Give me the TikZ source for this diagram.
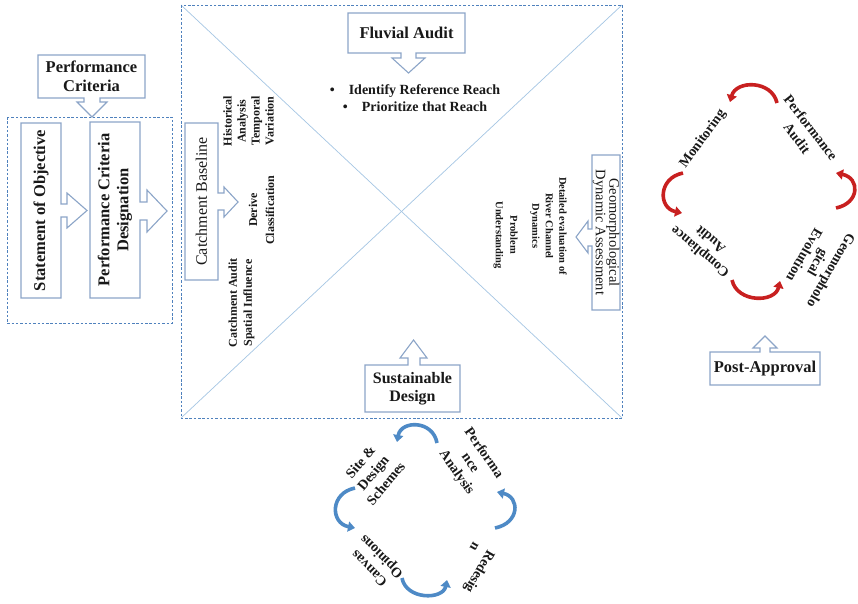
\documentclass[tikz,border=0pt]{standalone}
\usepackage{fontspec}
\setmainfont{Liberation Serif}
\usetikzlibrary{arrows.meta}
\definecolor{dashblue}{RGB}{79,129,189}
\definecolor{calloutblue}{RGB}{140,165,200}
\definecolor{diagblue}{RGB}{165,198,228}
\definecolor{arcred}{RGB}{200,32,32}
\definecolor{arcblue}{RGB}{78,138,198}
\definecolor{txt}{RGB}{25,25,25}
\begin{document}
\begin{tikzpicture}[x=1pt,y=-1pt,
  dsh/.style={draw=dashblue,line width=0.9pt,dash pattern=on 2.5pt off 1.8pt},
  diag/.style={draw=diagblue,line width=0.7pt},
  co/.style={draw=calloutblue,line width=1.1pt,fill=white,line join=miter},
  hd/.style={font=\fontsize{16.5}{19}\selectfont\bfseries,align=center,inner sep=0pt,text=txt},
  hdr/.style={font=\fontsize{14.5}{13.5}\selectfont,align=center,inner sep=0pt,text=txt},
  bul/.style={font=\fontsize{14}{17}\selectfont\bfseries,align=center,inner sep=0pt,text=txt},
  sm/.style={font=\fontsize{10.5}{13.5}\selectfont\bfseries,align=center,inner sep=0pt,text=txt},
  smb/.style={font=\fontsize{12}{14}\selectfont\bfseries,align=center,inner sep=0pt,text=txt},
  cyc/.style={font=\fontsize{14}{16.5}\selectfont\bfseries,align=center,inner sep=0pt,text=txt},
  redarc/.style={draw=arcred,line width=3.6pt,-{Triangle[width=10pt,length=7pt]}},
  bluearc/.style={draw=arcblue,line width=3.6pt,-{Triangle[width=10pt,length=7pt]}}]
\useasboundingbox (0,0) rectangle (858,603);
\fill[white] (0,0) rectangle (858,603);

% dashed frames and diagonals
\draw[dsh] (7,117) rectangle (172,323);
\draw[diag] (181,5) -- (622,418);
\draw[diag] (622,5) -- (181,418);
\draw[dsh] (181,5) rectangle (622,418);

% callout outlines
\draw[co] (38,55) -- (145,55) -- (145,98) -- (100,98) -- (100,102) -- (107,102) -- (92,117) -- (77,102) -- (84,102) -- (84,98) -- (38,98) -- cycle;
\draw[co] (21,123) -- (61,123) -- (61,204) -- (67,204) -- (67,193) -- (87,210.5) -- (67,228) -- (67,217) -- (61,217) -- (61,298) -- (21,298) -- cycle;
\draw[co] (90,122) -- (140,122) -- (140,202) -- (147,202) -- (147,190) -- (167,211) -- (147,232) -- (147,220) -- (140,220) -- (140,298) -- (90,298) -- cycle;
\draw[co] (348,13) -- (465,13) -- (465,53) -- (416,53) -- (416,58) -- (425,58) -- (408.5,73) -- (392,58) -- (401,58) -- (401,53) -- (348,53) -- cycle;
\draw[co] (185,123) -- (218,123) -- (218,193) -- (224,193) -- (224,187) -- (238,202) -- (224,217) -- (224,210) -- (218,210) -- (218,280) -- (185,280) -- cycle;
\draw[co] (592,155) -- (620,155) -- (620,310) -- (592,310) -- (592,246) -- (588,246) -- (588,253) -- (576,237) -- (588,221) -- (588,229) -- (592,229) -- cycle;
\draw[co] (365,365) -- (408,365) -- (408,358) -- (400,358) -- (413.5,340) -- (427,358) -- (420,358) -- (420,365) -- (460,365) -- (460,412) -- (365,412) -- cycle;
\draw[co] (710,352) -- (760,352) -- (760,348) -- (753,348) -- (765,336) -- (777,348) -- (770,348) -- (770,352) -- (820,352) -- (820,385) -- (710,385) -- cycle;

% box texts
\node[hd] (pc) at (91.5,76.5) {Performance\\Criteria};
\node[hd,rotate=90] (so) at (41,210.5) {Statement of Objective};
\node[hd,rotate=90] (pcd) at (115,210) {Performance Criteria\\Designation};
\node[hd] (fa) at (406.5,33) {Fluvial Audit};
\node[bul] (bl) at (415,98) {\textbullet\quad Identify Reference Reach\\\textbullet\quad Prioritize that Reach};
\node[hdr,font=\fontsize{16}{16}\selectfont,rotate=90] (cb) at (201.5,201.5) {Catchment Baseline};
\node[hdr,rotate=-90] (gda) at (606,232.5) {Geomorphological\\Dynamic Assessment};
\node[hd,font=\fontsize{16}{18.5}\selectfont\bfseries] (sd) at (412.5,388.5) {Sustainable\\Design};
\node[hd] (pa) at (765,369) {Post-Approval};

% small texts
\node[smb,rotate=90] (ha) at (248.5,121) {Historical\\Analysis\\Temporal\\Variation};
\node[smb,font=\fontsize{12}{17}\selectfont\bfseries,rotate=90] (dc) at (261.5,210) {Derive\\Classification};
\node[smb,font=\fontsize{12}{15}\selectfont\bfseries,rotate=90] (ca) at (241.5,303) {Catchment Audit\\Spatial Influence};
\node[sm,rotate=-90] (de) at (548.5,226) {Detailed evaluation of\\River Channel\\Dynamics};
\node[sm,font=\fontsize{10.5}{14.5}\selectfont\bfseries,rotate=-90] (pu) at (505.5,235) {Problem\\Understanding};

% post-approval cycle
\node[cyc,rotate=54] (mo) at (703,139) {Monitoring};
\node[cyc,font=\fontsize{14}{17.5}\selectfont\bfseries,rotate=-52] (pau) at (804,133) {Performance\\Audit};
\node[cyc,font=\fontsize{14}{15.5}\selectfont\bfseries,rotate=-120] (ge) at (818,263) {Geomorpholo\\gical\\Evolution};
\node[cyc,rotate=140] (cau) at (705,246) {Compliance\\Audit};
\draw[redarc] (777,103) .. controls (772,80) and (736,80) .. (730,102);
\draw[redarc] (683,173) .. controls (658,178) and (658,208) .. (682,213);
\draw[redarc] (732,280) .. controls (737,303) and (775,303) .. (780,281);
\draw[redarc] (836,208) .. controls (860,203) and (860,178) .. (836,173);

% design cycle
\node[cyc,rotate=50] (sds) at (373,473) {Site \&\\Design\\Schemes};
\node[cyc,rotate=-55] (pna) at (470,463) {Performa\\nce\\Analysis};
\node[cyc,align=left,rotate=-120] (rd) at (473,568) {Redesig\\n};
\node[cyc,font=\fontsize{14}{17}\selectfont\bfseries,rotate=135] (cop) at (376,562) {Canvas\\Opinions};
\draw[bluearc] (437,443) .. controls (433,420) and (401,420) .. (397,442);
\draw[bluearc] (355,488) .. controls (330,493) and (330,523) .. (355,528);
\draw[bluearc] (402,578) .. controls (406,600) and (443,600) .. (447,580);
\draw[bluearc] (495,528) .. controls (520,523) and (520,497) .. (497,492);
\end{tikzpicture}
\end{document}
